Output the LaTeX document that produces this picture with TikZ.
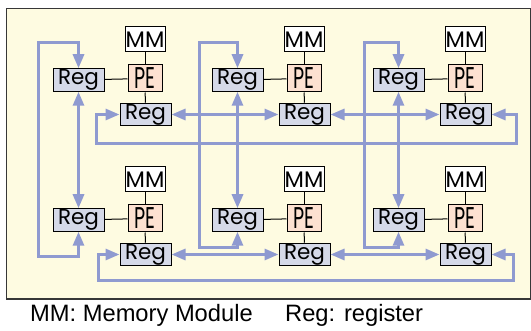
\documentclass[tikz,border=0pt]{standalone}
\usepackage{fontspec}
\setmainfont{Liberation Sans}
\newfontfamily\boxfont{Poppins}
\newfontfamily\pefont[FakeStretch=0.64]{Poppins}
\usetikzlibrary{arrows.meta}
\definecolor{bgyellow}{RGB}{254,251,225}
\definecolor{linkblue}{RGB}{143,154,208}
\definecolor{pefill}{RGB}{253,225,209}
\definecolor{regfill}{RGB}{213,217,232}
\definecolor{framegray}{RGB}{55,55,55}
\begin{document}
\begin{tikzpicture}[x=1pt,y=-1pt,
  box/.style={draw=black, line width=1pt, inner sep=0pt},
  mmbox/.style={box, fill=white, minimum width=40pt, minimum height=25pt, font=\boxfont\fontsize{22.5}{22.5}\selectfont},
  pebox/.style={box, fill=pefill, minimum width=34pt, minimum height=27pt, font=\pefont\fontsize{30}{30}\selectfont},
  regbox/.style={box, fill=regfill, minimum width=51pt, minimum height=22.5pt, font=\boxfont\fontsize{21.5}{21.5}\selectfont},
  wire/.style={draw=black, line width=1pt},
  link/.style={draw=linkblue, line width=3pt, {Triangle[length=14pt,width=11pt]}-{Triangle[length=14pt,width=11pt]}},
  legend/.style={font=\fontsize{23.7}{23.7}\selectfont, anchor=base west, inner sep=0pt}
]
\useasboundingbox (0,0) rectangle (531,331);
\draw[framegray, line width=1.2pt, fill=bgyellow] (6.5,8.5) rectangle (530.5,299);

\foreach \c/\ox in {1/0,2/159,3/320}{
  \foreach \r/\oy in {1/0,2/140}{
    \node[mmbox]  (mm\c\r) at (145+\ox, 39.5+\oy) {MM};
    \node[pebox]  (pe\c\r) at (145+\ox, 78.5+\oy) {PE};
    \node[regbox] (rl\c\r) at (78.5+\ox, 80+\oy) {Reg};
    \node[regbox] (rb\c\r) at (145.5+\ox, 114.5+\oy) {Reg};
  }
}
\foreach \c in {1,2,3}{
  \foreach \r in {1,2}{
    \draw[wire] (mm\c\r) -- (pe\c\r);
    \draw[wire] (pe\c\r) -- (rb\c\r);
    \draw[wire] (rl\c\r) -- (pe\c\r);
  }
}

% column links
\draw[link] (rl11.south) -- (rl12.north);
\draw[link] (rl21.south) -- (rl22.north);
\draw[link] (rl31.south) -- (rl32.north);
% column wrap-around
\draw[link] (rl12.south) |- (38,257) |- (78.5,43) -- (rl11.north);
\draw[link] (rl22.south) |- (199,248) |- (237.5,43) -- (rl21.north);
\draw[link] (rl32.south) |- (364,248) |- (398.5,43) -- (rl31.north);

% row links
\draw[link] (rb11.east) -- (rb21.west);
\draw[link] (rb21.east) -- (rb31.west);
\draw[link] (rb12.east) -- (rb22.west);
\draw[link] (rb22.east) -- (rb32.west);
% row wrap-around
\draw[link] (rb11.west) -| (96,144) -- (516,144) |- (rb31.east);
\draw[link] (rb12.west) -| (98,281) -- (513,281) |- (rb32.east);

\node[legend] (lg1) at (30,322) {MM: Memory Module};
\node[legend] (lg2) at (285,322) {Reg: register};
\end{tikzpicture}
\end{document}
